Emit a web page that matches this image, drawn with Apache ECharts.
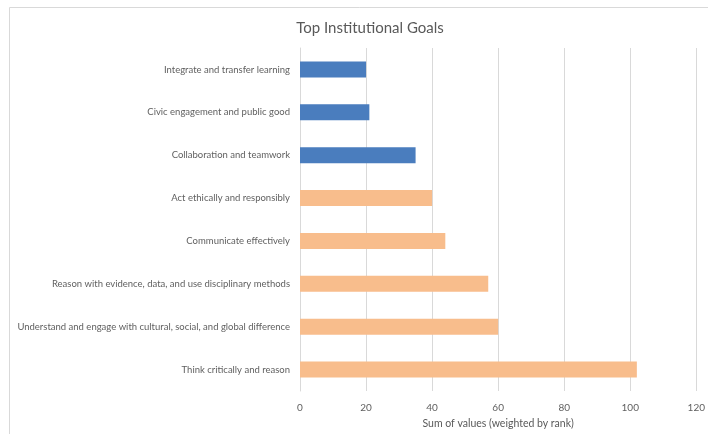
<!DOCTYPE html>
<html>
<head>
<meta charset="utf-8">
<script src="https://cdn.jsdelivr.net/npm/echarts@6/dist/echarts.min.js"></script>
<style>html,body{margin:0;padding:0;background:#fff}#c{width:708px;height:434px}</style>
</head>
<body>
<div id="c"></div>
<script>
var categories = [
  'Think critically and reason',
  'Understand and engage with cultural, social, and global difference',
  'Reason with evidence, data, and use disciplinary methods',
  'Communicate effectively',
  'Act ethically and responsibly',
  'Collaboration and teamwork',
  'Civic engagement and public good',
  'Integrate and transfer learning'
];
var orangeValues = [102, 60, 57, 44, 40, '-', '-', '-'];
var blueValues = ['-', '-', '-', '-', '-', 35, 21, 20];
var xTicks = [0, 20, 40, 60, 80, 100, 120];

var chart = echarts.init(document.getElementById('c'));
var lab = {color: '#5f5f5f', fontFamily: 'Lato', fontSize: 9.5};
chart.setOption({
  animation: false,
  backgroundColor: '#fff',
  title: {
    text: 'Top Institutional Goals',
    left: 365, top: 16, textAlign: 'center',
    textStyle: {color: '#595959', fontFamily: 'Lato', fontSize: 15, fontWeight: 'normal'}
  },
  graphic: [{
    type: 'rect', silent: true, z: -1,
    shape: {x: 9.5, y: 7.5, width: 720, height: 440},
    style: {fill: 'none', stroke: '#d9d9d9', lineWidth: 1}
  }],
  grid: {left: 300, right: 8, top: 48, bottom: 38},
  xAxis: {
    type: 'value', min: xTicks[0], max: xTicks[xTicks.length - 1], interval: 20,
    name: 'Sum of values (weighted by rank)', nameLocation: 'middle', nameGap: 27,
    nameTextStyle: {color: '#595959', fontFamily: 'Lato', fontSize: 10.5},
    axisLine: {show: false},
    axisTick: {show: false},
    axisLabel: Object.assign({margin: 12}, lab, {fontSize: 10}),
    splitLine: {lineStyle: {color: '#d9d9d9', width: 1}}
  },
  yAxis: {
    type: 'category', data: categories,
    axisLine: {show: true, lineStyle: {color: '#d9d9d9'}},
    axisTick: {show: false},
    axisLabel: Object.assign({margin: 10}, lab)
  },
  series: [
    {type: 'bar', stack: 'g', data: orangeValues, barWidth: 16, itemStyle: {color: '#F8BD8C'}},
    {type: 'bar', stack: 'g', data: blueValues, barWidth: 16, itemStyle: {color: '#4A7DBE'}}
  ]
});
</script>
</body>
</html>
